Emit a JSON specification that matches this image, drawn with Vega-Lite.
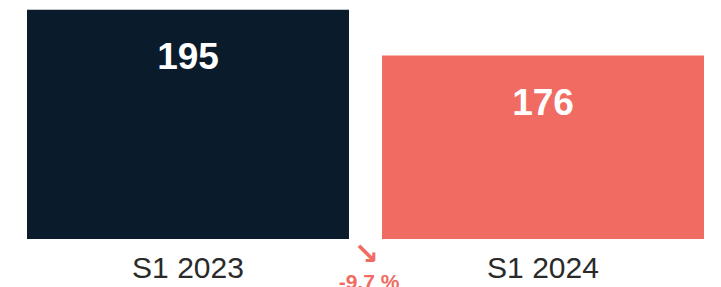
{
  "$schema": "https://vega.github.io/schema/vega-lite/v6.json",
  "width": 677,
  "height": 239,
  "autosize": {"type": "none"},
  "padding": {"left": 27, "top": 0, "right": 17, "bottom": 48},
  "background": "white",
  "config": {"view": {"stroke": null}},
  "data": {"values": [
    {"period": "S1 2023", "value": 195},
    {"period": "S1 2024", "value": 176}
  ]},
  "layer": [
    {
      "mark": {"type": "bar", "clip": false},
      "encoding": {
        "x": {"field": "period", "type": "nominal", "sort": null,
          "scale": {"paddingInner": 0.093, "paddingOuter": 0},
          "axis": {"title": null, "labelAngle": 0, "ticks": false, "domain": false,
            "labelFont": "Liberation Sans", "labelFontSize": 30, "labelColor": "#2a2a2a", "labelPadding": 14}},
        "y": {"field": "value", "type": "quantitative",
          "scale": {"domain": [100, 199], "zero": false, "nice": false},
          "axis": null},
        "y2": {"datum": 100},
        "color": {"field": "period", "type": "nominal",
          "scale": {"domain": ["S1 2023", "S1 2024"], "range": ["#0a1b2b", "#f06c62"]},
          "legend": null}
      }
    },
    {
      "mark": {"type": "text", "font": "Liberation Sans", "fontWeight": "bold", "fontSize": 37,
        "color": "white", "baseline": "alphabetic", "dy": 59},
      "encoding": {
        "x": {"field": "period", "type": "nominal", "sort": null},
        "y": {"field": "value", "type": "quantitative"},
        "text": {"field": "value", "type": "quantitative"}
      }
    },
    {
      "data": {"values": [{"period": "S1 2023", "arrow": "↘", "change": "-9.7 %"}]},
      "layer": [
        {
          "mark": {"type": "text", "font": "DejaVu Sans", "fontWeight": "bold", "fontSize": 30,
            "color": "#f06c62", "baseline": "middle", "dx": 17, "dy": 16, "clip": false},
          "encoding": {
            "x": {"field": "period", "type": "nominal", "bandPosition": 1},
            "y": {"datum": 100},
            "text": {"field": "arrow"}
          }
        },
        {
          "mark": {"type": "text", "font": "Liberation Sans", "fontWeight": "bold", "fontSize": 21,
            "color": "#f06c62", "baseline": "alphabetic", "dx": 20, "dy": 50, "clip": false},
          "encoding": {
            "x": {"field": "period", "type": "nominal", "bandPosition": 1},
            "y": {"datum": 100},
            "text": {"field": "change"}
          }
        }
      ]
    }
  ]
}
